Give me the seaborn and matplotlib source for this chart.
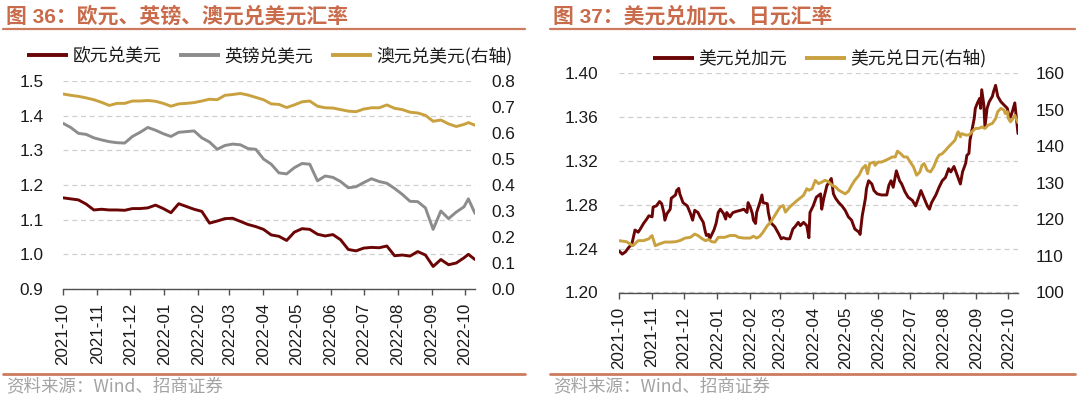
import numpy as np
import pandas as pd
import matplotlib
matplotlib.use("Agg")
import matplotlib.pyplot as plt
import matplotlib.dates as mdates
from matplotlib.lines import Line2D
from matplotlib.ticker import FormatStrFormatter, FixedLocator
import seaborn as sns

# ---------------- data ----------------
START = "2021-10-01"

# Figure 36: day offsets from 2021-10-01
left_days = [0, 7, 14, 21, 28, 35, 42, 49, 56, 63, 70, 77, 84, 91, 98, 105, 112,
             119, 126, 133, 140, 147, 154, 161, 168, 175, 182, 189, 196, 203,
             210, 217, 224, 231, 238, 245, 252, 259, 266, 273, 280, 287, 294,
             301, 308, 315, 322, 329, 336, 343, 350, 357, 364, 368, 374]
eur_usd = [1.163, 1.160, 1.157, 1.145, 1.128, 1.130, 1.128, 1.128, 1.127, 1.132,
           1.132, 1.134, 1.142, 1.132, 1.120, 1.146, 1.138, 1.130, 1.124, 1.090,
           1.096, 1.103, 1.104, 1.095, 1.086, 1.080, 1.072, 1.056, 1.052, 1.040,
           1.064, 1.074, 1.072, 1.058, 1.053, 1.057, 1.042, 1.014, 1.010, 1.018,
           1.020, 1.019, 1.024, 0.996, 0.998, 0.995, 1.008, 0.998, 0.965, 0.985,
           0.970, 0.975, 0.990, 1.000, 0.985]
gbp_usd = [1.378, 1.366, 1.349, 1.346, 1.336, 1.330, 1.325, 1.322, 1.321, 1.340,
           1.352, 1.366, 1.358, 1.348, 1.340, 1.352, 1.354, 1.356, 1.336, 1.324,
           1.303, 1.314, 1.318, 1.316, 1.305, 1.303, 1.275, 1.260, 1.235, 1.232,
           1.250, 1.262, 1.260, 1.212, 1.226, 1.222, 1.210, 1.192, 1.195, 1.207,
           1.218, 1.210, 1.205, 1.190, 1.173, 1.153, 1.152, 1.134, 1.072, 1.125,
           1.103, 1.122, 1.137, 1.160, 1.118]
aud_usd = [0.750, 0.745, 0.741, 0.735, 0.728, 0.718, 0.706, 0.714, 0.714, 0.723,
           0.723, 0.725, 0.722, 0.714, 0.703, 0.712, 0.714, 0.717, 0.723, 0.730,
           0.728, 0.745, 0.748, 0.752, 0.746, 0.737, 0.728, 0.712, 0.710, 0.698,
           0.708, 0.720, 0.723, 0.703, 0.697, 0.696, 0.690, 0.684, 0.682, 0.692,
           0.697, 0.697, 0.708, 0.695, 0.690, 0.680, 0.677, 0.668, 0.645, 0.650,
           0.635, 0.625, 0.633, 0.640, 0.630]

# Figure 37: USD/CAD
cad_days = [0, 3, 6, 9, 12, 15, 18, 20, 23, 26, 28, 31, 32, 35, 38, 40, 42, 43,
            45, 48, 49, 53, 54, 56, 57, 60, 64, 67, 69, 71, 74, 76, 79, 81, 82,
            84, 85, 89, 91, 93, 95, 98, 100, 101, 104, 106, 107, 110, 114, 117,
            120, 121, 123, 125, 126, 128, 129, 132, 134, 135, 139, 140, 142, 145,
            146, 150, 152, 154, 157, 160, 163, 165, 168, 170, 173, 176, 178, 179,
            182, 185, 189, 190, 192, 195, 196, 199, 201, 203, 206, 209, 212, 215,
            218, 221, 225, 226, 228, 231, 232, 234, 237, 239, 242, 246, 251, 253,
            255, 257, 260, 263, 265, 268, 271, 275, 278, 281, 283, 286, 289, 291,
            293, 297, 300, 303, 306, 309, 311, 314, 317, 320, 322, 325, 326, 328,
            329, 333, 334, 336, 338, 339, 340, 342, 343, 345, 347, 350, 351, 353,
            355, 358, 361, 364, 365, 367, 369, 371, 374]
usd_cad = [1.238, 1.235, 1.237, 1.241, 1.244, 1.257, 1.255, 1.258, 1.263, 1.267,
           1.270, 1.269, 1.278, 1.279, 1.283, 1.281, 1.273, 1.266, 1.272, 1.276,
           1.286, 1.289, 1.293, 1.295, 1.290, 1.282, 1.279, 1.272, 1.266, 1.275,
           1.273, 1.269, 1.264, 1.255, 1.252, 1.253, 1.249, 1.257, 1.263, 1.273,
           1.276, 1.272, 1.267, 1.273, 1.269, 1.272, 1.273, 1.274, 1.275, 1.276,
           1.273, 1.282, 1.278, 1.272, 1.266, 1.263, 1.273, 1.282, 1.289, 1.282,
           1.281, 1.273, 1.264, 1.261, 1.260, 1.253, 1.249, 1.250, 1.249, 1.249,
           1.258, 1.260, 1.264, 1.261, 1.264, 1.261, 1.250, 1.273, 1.279, 1.287,
           1.290, 1.276, 1.286, 1.298, 1.299, 1.304, 1.290, 1.286, 1.282, 1.279,
           1.275, 1.269, 1.266, 1.258, 1.255, 1.253, 1.270, 1.286, 1.295, 1.302,
           1.299, 1.293, 1.290, 1.289, 1.289, 1.298, 1.302, 1.296, 1.311, 1.302,
           1.299, 1.292, 1.287, 1.284, 1.279, 1.287, 1.293, 1.286, 1.279, 1.276,
           1.282, 1.289, 1.296, 1.302, 1.305, 1.313, 1.310, 1.315, 1.307, 1.299,
           1.310, 1.318, 1.325, 1.327, 1.339, 1.359, 1.368, 1.373, 1.377, 1.368,
           1.385, 1.371, 1.351, 1.368, 1.374, 1.379, 1.383, 1.389, 1.379, 1.374,
           1.371, 1.368, 1.363, 1.360, 1.366, 1.373, 1.345]

# Figure 37: USD/JPY (right axis)
jpy_days = [0, 7, 13, 18, 23, 28, 31, 34, 38, 43, 48, 53, 57, 62, 67, 71, 74, 78,
            81, 84, 87, 90, 93, 99, 104, 109, 112, 117, 123, 126, 129, 132, 135,
            139, 142, 145, 148, 151, 154, 156, 160, 167, 173, 176, 178, 181, 184,
            187, 190, 193, 196, 200, 203, 206, 209, 212, 215, 218, 221, 225, 228,
            231, 233, 235, 239, 240, 243, 246, 250, 253, 256, 259, 261, 264, 267,
            270, 273, 276, 279, 282, 284, 286, 289, 292, 295, 298, 300, 303, 306,
            309, 312, 315, 317, 318, 320, 321, 325, 328, 331, 334, 337, 340, 343,
            346, 350, 353, 355, 358, 361, 362, 364, 365, 367, 369, 371, 374]
usd_jpy = [114.2, 113.9, 112.8, 114.2, 114.2, 114.7, 115.6, 112.8, 113.3, 113.8,
           113.8, 113.9, 114.2, 114.9, 115.1, 116.0, 115.6, 114.7, 114.2, 114.5,
           113.9, 113.8, 115.1, 115.1, 115.6, 115.6, 115.1, 114.9, 114.9, 115.4,
           114.9, 115.4, 116.5, 118.3, 119.2, 120.6, 122.0, 123.4, 123.8, 122.0,
           123.4, 125.2, 126.6, 128.4, 128.0, 128.4, 130.7, 129.8, 130.2, 130.7,
           130.4, 129.3, 128.9, 128.0, 127.5, 127.0, 127.7, 129.3, 130.7, 132.1,
           133.9, 134.8, 132.5, 135.3, 135.7, 134.8, 135.7, 135.7, 136.2, 136.6,
           137.1, 137.1, 138.7, 138.0, 137.1, 137.1, 135.7, 134.4, 132.1, 133.0,
           134.8, 135.3, 133.4, 133.0, 134.4, 136.6, 137.6, 138.0, 138.9, 139.9,
           140.8, 141.7, 143.5, 144.0, 142.6, 143.5, 143.1, 143.1, 144.0, 144.9,
           144.9, 145.3, 144.9, 145.8, 146.3, 147.6, 149.5, 150.4, 149.9, 149.0,
           149.5, 147.6, 146.7, 147.5, 148.5, 146.5]

left_yticks = [0.9, 1.0, 1.1, 1.2, 1.3, 1.4, 1.5]
left_ryticks = [0.0, 0.1, 0.2, 0.3, 0.4, 0.5, 0.6, 0.7, 0.8]
right_yticks = [1.20, 1.24, 1.28, 1.32, 1.36, 1.40]
right_ryticks = [100, 110, 120, 130, 140, 150, 160]

title_left = "图 36：欧元、英镑、澳元兑美元汇率"
title_right = "图 37：美元兑加元、日元汇率"
legend_left = ["欧元兑美元", "英镑兑美元", "澳元兑美元(右轴)"]
legend_right = ["美元兑加元", "美元兑日元(右轴)"]
source_text = "资料来源：Wind、招商证券"

assert len(left_days) == len(eur_usd) == len(gbp_usd) == len(aud_usd)
assert len(cad_days) == len(usd_cad)
assert len(jpy_days) == len(usd_jpy)

# ---------------- styling ----------------
RED = "#6B0505"
GRAY = "#8C8C8C"
GOLD = "#C9A13F"
TITLE_C = "#C96B4A"
RULE_C = "#CC7B5E"
TEXT_C = "#1A1A1A"

sns.set_theme(style="white")
plt.rcParams["font.family"] = ["Liberation Sans", "Noto Sans CJK SC", "DejaVu Sans"]
CJK = ["Noto Sans CJK SC", "DejaVu Sans"]

W, H = 1080, 398
fig = plt.figure(figsize=(W / 100, H / 100), dpi=100)
base = pd.Timestamp(START)


def to_dates(days):
    return base + pd.to_timedelta(np.asarray(days), unit="D")


def px_rect(x0, y0, x1, y1):
    return [x0 / W, 1 - y1 / H, (x1 - x0) / W, (y1 - y0) / H]


def style_axes(ax, axr, ylim, yticks, yfmt, rylim, ryticks, rfmt, lpad, rpad):
    for a in (ax, axr):
        for s in a.spines.values():
            s.set_visible(False)
        a.set_xlabel("")
        a.set_ylabel("")
    ax.spines["bottom"].set_visible(True)
    ax.spines["bottom"].set_color("#505050")
    ax.spines["bottom"].set_linewidth(1.0)
    ax.set_xlim(base, base + pd.Timedelta(days=374))
    ax.xaxis.set_major_locator(mdates.MonthLocator())
    ax.xaxis.set_major_formatter(mdates.DateFormatter("%Y-%m"))
    ax.tick_params(axis="x", bottom=True, direction="out", length=4, width=1.0,
                   color="#505050", pad=6, labelsize=12.2, labelrotation=90,
                   labelcolor=TEXT_C)
    ax.set_ylim(*ylim)
    ax.yaxis.set_major_locator(FixedLocator(yticks))
    ax.yaxis.set_major_formatter(FormatStrFormatter(yfmt))
    ax.tick_params(axis="y", left=False, length=0, pad=lpad, labelsize=12.4,
                   labelcolor=TEXT_C)
    axr.set_ylim(*rylim)
    axr.yaxis.set_major_locator(FixedLocator(ryticks))
    axr.yaxis.set_major_formatter(FormatStrFormatter(rfmt))
    axr.tick_params(axis="y", right=False, length=0, pad=rpad, labelsize=12.4,
                    labelcolor=TEXT_C)
    ax.yaxis.grid(True, linestyle=(0, (4, 3)), color="#CFCFCF", linewidth=0.9)
    ax.xaxis.grid(False)
    axr.grid(False)
    ax.set_axisbelow(True)


LW = 2.1

# ---------------- Figure 36 ----------------
ax1 = fig.add_axes(px_rect(63, 81, 475, 289))
ax1r = ax1.twinx()
ld = to_dates(left_days)
sns.lineplot(x=ld, y=eur_usd, ax=ax1, color=RED, linewidth=LW, legend=False)
sns.lineplot(x=ld, y=gbp_usd, ax=ax1, color=GRAY, linewidth=LW, legend=False)
sns.lineplot(x=ld, y=aud_usd, ax=ax1r, color=GOLD, linewidth=LW, legend=False)
style_axes(ax1, ax1r, (0.9, 1.5), left_yticks, "%.1f", (0.0, 0.8), left_ryticks,
           "%.1f", 14, 11.5)

# ---------------- Figure 37 ----------------
ax2 = fig.add_axes(px_rect(619, 73.3, 1018, 292.5))
ax2r = ax2.twinx()
sns.lineplot(x=to_dates(cad_days), y=usd_cad, ax=ax2, color=RED, linewidth=LW,
             legend=False)
sns.lineplot(x=to_dates(jpy_days), y=usd_jpy, ax=ax2r, color=GOLD, linewidth=LW,
             legend=False)
style_axes(ax2, ax2r, (1.20, 1.40), right_yticks, "%.2f", (100, 160),
           right_ryticks, "%d", 15, 13)

# ---------------- legends ----------------
def handle(c):
    return Line2D([], [], color=c, linewidth=2.8, solid_capstyle="butt")


leg_kw = dict(loc="center", frameon=False, borderpad=0, borderaxespad=0,
              handlelength=2.3, handletextpad=0.25, columnspacing=1.0,
              prop={"family": CJK, "size": 12.8}, labelcolor=TEXT_C,
              bbox_transform=fig.transFigure)
fig.legend([handle(RED), handle(GRAY), handle(GOLD)], legend_left, ncol=3,
           bbox_to_anchor=(270 / W, 1 - 56 / H), **leg_kw)
fig.legend([handle(RED), handle(GOLD)], legend_right, ncol=2,
           bbox_to_anchor=(820 / W, 1 - 59.5 / H), **leg_kw)

# ---------------- titles, rules, source ----------------
for x0, x1, title in ((3, 525, title_left), (550, 1075, title_right)):
    fig.text((x0 + 3) / W, 1 - 16 / H, title, ha="left", va="center",
             fontsize=15, fontweight="bold", color=TITLE_C)
    fig.add_artist(Line2D([x0 / W, x1 / W], [1 - 29 / H] * 2, color=RULE_C,
                          linewidth=1.6, transform=fig.transFigure))
    fig.add_artist(Line2D([x0 / W, x1 / W], [1 - 373.5 / H] * 2, color=RULE_C,
                          linewidth=2.0, transform=fig.transFigure))
    fig.text((x0 + 3) / W, 1 - 386 / H, source_text, ha="left", va="center",
             fontsize=12.6, color="#A3A3A3", family=CJK)

fig.savefig("out.png", dpi=100)
